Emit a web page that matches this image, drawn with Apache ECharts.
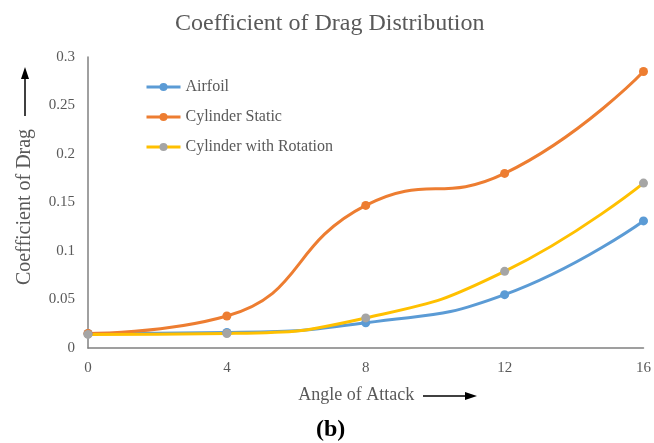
<!DOCTYPE html>
<html>
<head>
<meta charset="utf-8">
<script src="https://cdn.jsdelivr.net/npm/echarts@6/dist/echarts.min.js"></script>
<style>html,body{margin:0;padding:0;background:#fff;}#c{width:654px;height:443px;}</style>
</head>
<body>
<div id="c"></div>
<script>
var angles = [0, 4, 8, 12, 16];
var airfoil = [0.015, 0.016, 0.026, 0.055, 0.131];
var cylinderStatic = [0.015, 0.033, 0.147, 0.180, 0.285];
var cylinderRotation = [0.014, 0.015, 0.031, 0.079, 0.170];
var seriesNames = ['Airfoil', 'Cylinder Static', 'Cylinder with Rotation'];

function pairs(v) { return angles.map(function (a, i) { return [a, v[i]]; }); }

var font = 'Liberation Serif, Times New Roman, serif';
var txt = '#595959';
var chart = echarts.init(document.getElementById('c'), null, {renderer: 'canvas'});

function mkSeries(name, data, lineColor, dotColor) {
  return {
    name: name, type: 'line', data: pairs(data), smooth: 0.5,
    symbol: 'circle', symbolSize: 9, showSymbol: true,
    lineStyle: {color: lineColor, width: 3},
    itemStyle: {color: dotColor},
    emphasis: {disabled: true}
  };
}

chart.setOption({
  animation: false,
  title: {
    text: 'Coefficient of Drag Distribution', left: 170, top: 7,
    textStyle: {fontFamily: font, fontSize: 24, fontWeight: 'normal', color: txt}
  },
  legend: {
    orient: 'vertical', left: 140, top: 74, itemGap: 14,
    itemWidth: 34, itemHeight: 10,
    lineStyle: {width: 3},
    textStyle: {fontFamily: font, fontSize: 16, color: txt},
    data: seriesNames
  },
  grid: {left: 88, right: 9, top: 57, bottom: 95, containLabel: false},
  xAxis: {
    type: 'value', min: 0, max: 16, interval: 4,
    name: 'Angle of Attack', nameLocation: 'middle', nameGap: 38,
    nameTextStyle: {fontFamily: font, fontSize: 18, color: txt, padding: [0, 19, 0, 0]},
    axisLine: {show: true, lineStyle: {color: '#808080', width: 1.5}},
    axisTick: {show: false}, splitLine: {show: false},
    axisLabel: {fontFamily: font, fontSize: 15, color: txt, margin: 13}
  },
  yAxis: {
    type: 'value', min: 0, max: 0.3, interval: 0.05,
    name: 'Coefficient of Drag', nameLocation: 'middle', nameGap: 53,
    nameTextStyle: {fontFamily: font, fontSize: 20, color: txt, padding: [0, 9, 0, 0]},
    axisLine: {show: true, lineStyle: {color: '#808080', width: 1.5}},
    axisTick: {show: false}, splitLine: {show: false},
    axisLabel: {fontFamily: font, fontSize: 15, color: txt, margin: 13}
  },
  graphic: [
    {type: 'line', shape: {x1: 25, y1: 116, x2: 25, y2: 78}, style: {stroke: '#000', lineWidth: 1.5}},
    {type: 'polygon', shape: {points: [[25, 67], [21, 79], [29, 79]]}, style: {fill: '#000'}},
    {type: 'line', shape: {x1: 423, y1: 396, x2: 466, y2: 396}, style: {stroke: '#000', lineWidth: 1.5}},
    {type: 'polygon', shape: {points: [[477, 396], [465, 392], [465, 400]]}, style: {fill: '#000'}},
    {type: 'text', left: 316, top: 418, style: {text: '(b)', font: 'bold 24px ' + font, fill: '#000'}}
  ],
  series: [
    mkSeries(seriesNames[0], airfoil, '#5B9BD5', '#5B9BD5'),
    mkSeries(seriesNames[1], cylinderStatic, '#ED7D31', '#ED7D31'),
    mkSeries(seriesNames[2], cylinderRotation, '#FFC000', '#A5A5A5')
  ]
});
</script>
</body>
</html>
